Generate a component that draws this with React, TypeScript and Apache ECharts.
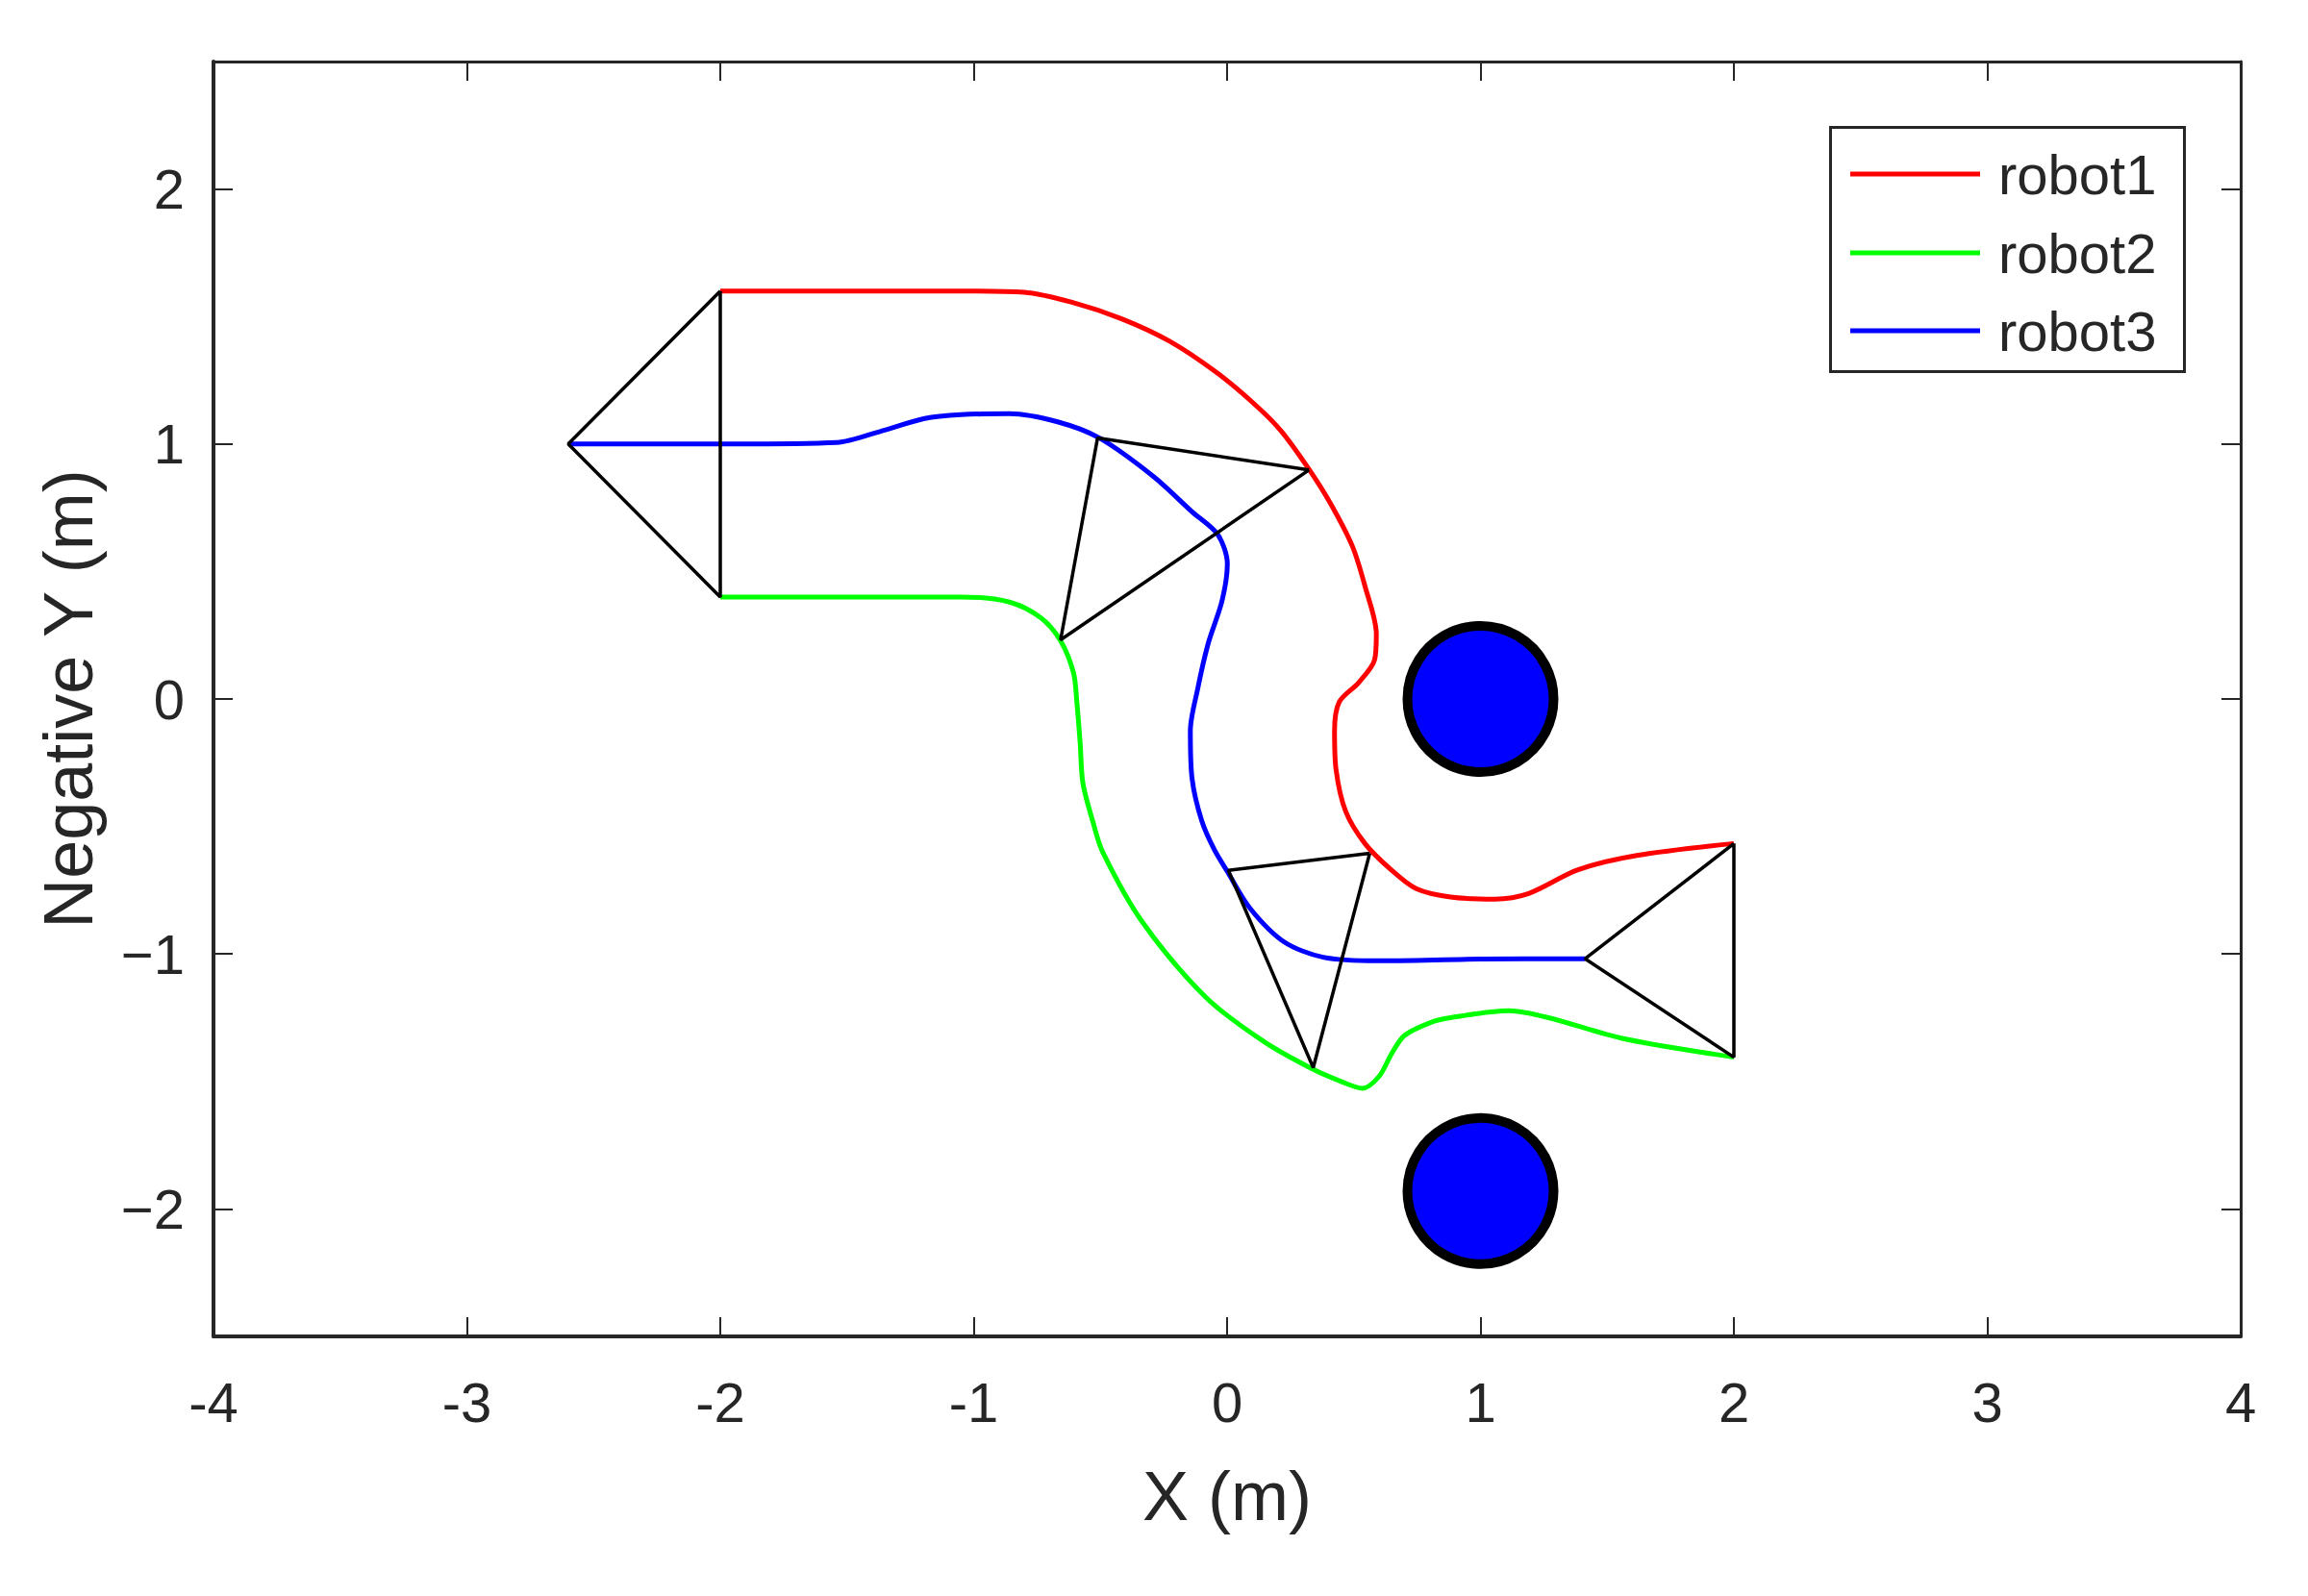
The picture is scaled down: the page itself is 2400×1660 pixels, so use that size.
import React, { useEffect, useRef } from "react";
import * as echarts from "echarts";

// ---- data ----
const xTicks = [-4, -3, -2, -1, 0, 1, 2, 3, 4];
const yTicks = [-2, -1, 0, 1, 2];
const robotNames = ["robot1", "robot2", "robot3"];
const xTitle = "X (m)";
const yTitle = "Negative Y (m)";

const robot1Path = [
  [-2.0, 1.6], [-1.5, 1.6], [-1.05, 1.6], [-0.8, 1.595], [-0.606, 1.554], [-0.416, 1.491],
  [-0.227, 1.403], [-0.037, 1.277], [0.115, 1.15], [0.215, 1.049], [0.317, 0.91],
  [0.405, 0.772], [0.494, 0.6], [0.544, 0.443], [0.589, 0.254], [0.582, 0.153],
  [0.519, 0.064], [0.443, -0.011], [0.424, -0.125], [0.43, -0.277], [0.468, -0.441],
  [0.544, -0.567], [0.645, -0.668], [0.746, -0.744], [0.882, -0.777], [1.056, -0.785],
  [1.19, -0.763], [1.385, -0.67], [1.617, -0.614], [2.0, -0.567],
];
const robot2Path = [
  [-2.0, 0.4], [-1.5, 0.4], [-1.05, 0.4], [-0.859, 0.38], [-0.733, 0.317], [-0.657, 0.228],
  [-0.606, 0.102], [-0.593, -0.011], [-0.58, -0.17], [-0.569, -0.33], [-0.53, -0.48],
  [-0.491, -0.6], [-0.337, -0.871], [-0.085, -1.169], [0.147, -1.345], [0.34, -1.453],
  [0.45, -1.5], [0.534, -1.527], [0.6, -1.48], [0.65, -1.39], [0.7, -1.32], [0.8, -1.27],
  [0.882, -1.25], [1.113, -1.223], [1.268, -1.25], [1.559, -1.331], [2.0, -1.405],
];
const robot3Path = [
  [-2.6, 1.0], [-2.0, 1.0], [-1.54, 1.006], [-1.367, 1.05], [-1.193, 1.1], [-1.05, 1.115],
  [-0.859, 1.119], [-0.669, 1.087], [-0.505, 1.024], [-0.29, 0.872], [-0.138, 0.734],
  [-0.037, 0.645], [0.001, 0.53], [-0.02, 0.385], [-0.075, 0.216], [-0.116, 0.04],
  [-0.145, -0.125], [-0.138, -0.314], [-0.1, -0.478], [-0.05, -0.592], [0.0, -0.675],
  [0.089, -0.819], [0.224, -0.952], [0.379, -1.013], [0.592, -1.027], [1.0, -1.02],
  [1.413, -1.019],
];
const formationStart = [[-2.0, 1.6], [-2.6, 1.0], [-2.0, 0.4], [-2.0, 1.6]];
const formationMid1 = [[0.323, 0.898], [-0.511, 1.024], [-0.657, 0.232], [0.323, 0.898]];
const formationMid2 = [[0.563, -0.605], [0.005, -0.672], [0.34, -1.446], [0.563, -0.605]];
const formationEnd = [[2.0, -0.567], [1.413, -1.019], [2.0, -1.405], [2.0, -0.567]];
const obstacles = [[1.0, 0.0], [1.0, -1.93]];

// ---- styles ----
const robotColors = ["#ff0000", "#00ff00", "#0000ff"];
const FONT = "'Liberation Sans', Arial, Helvetica, sans-serif";
const AX = "#262626";

export default function App() {
  const ref = useRef<HTMLDivElement>(null);
  useEffect(() => {
    if (!ref.current) return;
    const chart = echarts.init(ref.current, null, { renderer: "svg" });
    const robotPaths = [robot1Path, robot2Path, robot3Path];
    const formations = [formationStart, formationMid1, formationMid2, formationEnd];

    const baseAxis = {
      axisTick: { show: true, inside: true, length: 20, lineStyle: { color: AX, width: 2 } },
      splitLine: { show: false },
    };

    const legendLeft = 1902, legendTop = 131, legendW = 368, legendH = 254;
    const rowY = [181, 263, 344];

    const option: any = {
      animation: false,
      backgroundColor: "#ffffff",
      grid: { left: 222, right: 70, top: 64, bottom: 270 },
      xAxis: [
        {
          ...baseAxis,
          type: "value", min: -4, max: 4, interval: 1, position: "bottom",
          axisLine: { show: true, onZero: false, lineStyle: { color: AX, width: 4 } },
          axisLabel: {
            customValues: xTicks, margin: 39, color: AX, fontSize: 58, fontFamily: FONT,
          },
          name: xTitle, nameLocation: "middle", nameGap: 130,
          nameTextStyle: { color: AX, fontSize: 72, fontFamily: FONT },
        },
        {
          ...baseAxis,
          type: "value", min: -4, max: 4, interval: 1, position: "top",
          axisLine: { show: true, onZero: false, lineStyle: { color: AX, width: 3 } },
          axisLabel: { show: false },
        },
      ],
      yAxis: [
        {
          ...baseAxis,
          type: "value", min: -2.5, max: 2.5, position: "left",
          axisTick: { ...baseAxis.axisTick, customValues: yTicks },
          axisLine: { show: true, onZero: false, lineStyle: { color: AX, width: 4 } },
          axisLabel: {
            customValues: yTicks, margin: 30, color: AX, fontSize: 58, fontFamily: FONT,
            formatter: (v: number) => String(v).replace("-", "\u2212"),
          },
          name: yTitle, nameLocation: "middle", nameGap: 115, nameRotate: 90,
          nameTextStyle: { color: AX, fontSize: 72, fontFamily: FONT },
        },
        {
          ...baseAxis,
          type: "value", min: -2.5, max: 2.5, position: "right",
          axisTick: { ...baseAxis.axisTick, customValues: yTicks },
          axisLine: { show: true, onZero: false, lineStyle: { color: AX, width: 3 } },
          axisLabel: { show: false },
        },
      ],
      series: [
        ...robotPaths.map((p, i) => ({
          type: "line", name: robotNames[i], data: p, smooth: 0.3, symbol: "none",
          xAxisIndex: 0, yAxisIndex: 0, z: 3,
          lineStyle: { color: robotColors[i], width: 5 },
        })),
        ...formations.map((f) => ({
          type: "line", data: f, symbol: "none", xAxisIndex: 0, yAxisIndex: 0, z: 4,
          lineStyle: { color: "#000000", width: 3.5 },
        })),
        {
          type: "scatter", data: obstacles, symbol: "circle", symbolSize: 152,
          xAxisIndex: 0, yAxisIndex: 0, z: 5,
          itemStyle: { color: "#0000ff", borderColor: "#000000", borderWidth: 10, opacity: 1 },
        },
      ],
      graphic: [
        {
          type: "rect", left: legendLeft, top: legendTop, z: 10,
          shape: { width: legendW, height: legendH },
          style: { fill: "#ffffff", stroke: AX, lineWidth: 3 },
        },
        ...robotNames.map((n, i) => ({
          type: "line", z: 11,
          shape: { x1: 1924, y1: rowY[i], x2: 2059, y2: rowY[i] },
          style: { stroke: robotColors[i], lineWidth: 5 },
        })),
        ...robotNames.map((n, i) => ({
          type: "text", z: 11, x: 2078, y: rowY[i],
          style: {
            text: n, fill: AX, fontSize: 58, fontFamily: FONT,
            textAlign: "left", textVerticalAlign: "middle",
          },
        })),
      ],
    };
    chart.setOption(option);
    return () => chart.dispose();
  }, []);
  return (
    <div
      ref={ref}
      style={{ position: "absolute", left: 0, top: 0, width: 2400, height: 1660, background: "#fff" }}
    />
  );
}
